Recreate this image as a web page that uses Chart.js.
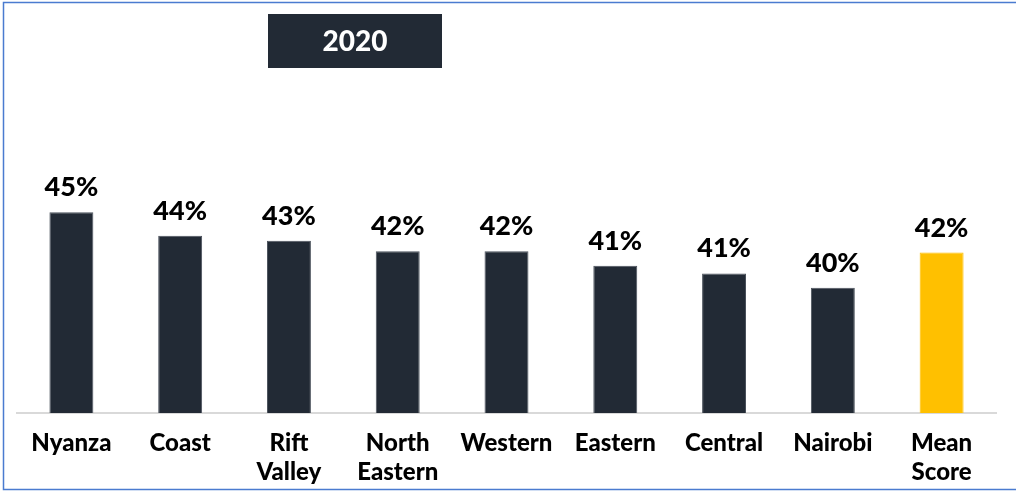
<!DOCTYPE html>
<html>
<head>
<meta charset="utf-8">
<script src="https://cdn.jsdelivr.net/npm/chart.js@4.4.1/dist/chart.umd.min.js"></script>
<style>
  html, body { margin: 0; padding: 0; background: #fff; }
  #wrap { position: relative; width: 1016px; height: 492px; }
</style>
</head>
<body>
<div id="wrap"><canvas id="mycanvas" width="1016" height="492"></canvas></div>
<script>
// 2020 scores by region
var regions = ['Nyanza', 'Coast', ['Rift', 'Valley'], ['North', 'Eastern'], 'Western', 'Eastern', 'Central', 'Nairobi', ['Mean', 'Score']];
var scores = [45.4, 43.6, 43.2, 42.4, 42.4, 41.3, 40.7, 39.6, 42.3];
var barColors = ['#222a35', '#222a35', '#222a35', '#222a35', '#222a35', '#222a35', '#222a35', '#222a35', '#ffc000'];
var yearTitle = '2020';

var fontName = 'Lato, "Open Sans", sans-serif';

// frame + year box
var decor = {
  id: 'decor',
  afterDraw: function(chart) {
    var c = chart.ctx;
    c.save();
    c.strokeStyle = '#4a7bd0';
    c.lineWidth = 1.5;
    c.beginPath();
    c.moveTo(1016, 2.5); c.lineTo(3.5, 2.5); c.lineTo(3.5, 489.5); c.lineTo(1016, 489.5);
    c.stroke();

    c.fillStyle = '#222a35';
    c.fillRect(268, 14, 174, 54);
    c.fillStyle = '#fff';
    c.font = '900 28px ' + fontName;
    c.textAlign = 'center';
    c.textBaseline = 'middle';
    c.fillText(yearTitle, 355, 42);
    c.restore();
  }
};

// percent labels on top of the bars
var valueLabels = {
  id: 'valueLabels',
  afterDatasetsDraw: function(chart) {
    var c = chart.ctx;
    var meta = chart.getDatasetMeta(0);
    c.save();
    c.fillStyle = '#000';
    c.font = '900 27px ' + fontName;
    c.textAlign = 'center';
    c.textBaseline = 'alphabetic';
    meta.data.forEach(function(bar, i) {
      c.fillText(Math.round(scores[i]) + '%', bar.x, bar.y - 16);
    });
    c.restore();
  }
};

var chartdata = {
  labels: regions,
  datasets: [{
    data: scores,
    backgroundColor: barColors,
    borderColor: barColors.map(function(col) { return col == '#ffc000' ? col : '#4b525c'; }),
    borderWidth: 1,
    categoryPercentage: 1,
    barPercentage: 0.404
  }]
};

var ctx = document.getElementById('mycanvas');
var barGraph = new Chart(ctx, {
  type: 'bar',
  data: chartdata,
  plugins: [decor, valueLabels],
  options: {
    responsive: false,
    animation: false,
    layout: { padding: { left: 17, right: 20, top: 100, bottom: 0 } },
    plugins: {
      legend: { display: false },
      tooltip: { enabled: false }
    },
    scales: {
      x: {
        grid: { display: false },
        border: { display: true, color: '#d9d9d9', width: 2 },
        ticks: {
          color: '#000',
          padding: 8,
          maxRotation: 0,
          autoSkip: false,
          font: { family: fontName, size: 24, weight: '900', lineHeight: 1.2 }
        },
        afterFit: function(scale) { scale.height = 79; }
      },
      y: {
        display: false,
        min: 30,
        max: 54
      }
    }
  }
});
</script>
</body>
</html>
